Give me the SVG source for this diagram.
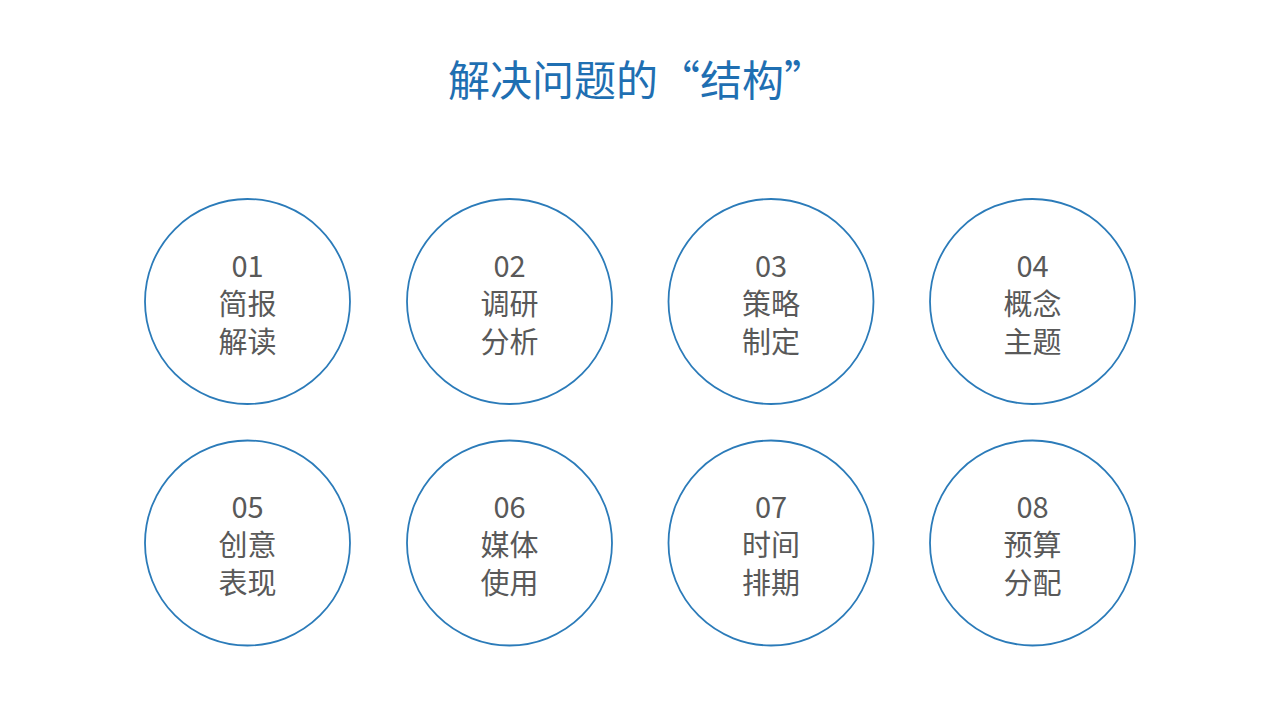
<svg xmlns="http://www.w3.org/2000/svg" width="1280" height="720" viewBox="0 0 1280 720">
<style>
.c{fill:#ffffff;stroke:#2B7BB9;stroke-width:1.8}
.t{font-family:"Noto Sans CJK SC","Noto Sans",sans-serif;font-size:29px;fill:#595959;text-anchor:middle}
.h{font-family:"Noto Sans CJK SC","Noto Sans",sans-serif;font-size:42px;fill:#1F6FB2;text-anchor:middle}
</style>
<rect width="1280" height="720" fill="#ffffff"/>
<text class="h" x="637" y="96">解决问题的“结构”</text>
<g id="n1"><circle class="c" cx="247.5" cy="301.5" r="102.5"/><text class="t" x="247.5" y="276.5">01</text><text class="t" x="247.5" y="314.5">简报</text><text class="t" x="247.5" y="352.5">解读</text></g>
<g id="n2"><circle class="c" cx="509.5" cy="301.5" r="102.5"/><text class="t" x="509.5" y="276.5">02</text><text class="t" x="509.5" y="314.5">调研</text><text class="t" x="509.5" y="352.5">分析</text></g>
<g id="n3"><circle class="c" cx="771" cy="301.5" r="102.5"/><text class="t" x="771" y="276.5">03</text><text class="t" x="771" y="314.5">策略</text><text class="t" x="771" y="352.5">制定</text></g>
<g id="n4"><circle class="c" cx="1032.5" cy="301.5" r="102.5"/><text class="t" x="1032.5" y="276.5">04</text><text class="t" x="1032.5" y="314.5">概念</text><text class="t" x="1032.5" y="352.5">主题</text></g>
<g id="n5"><circle class="c" cx="247.5" cy="543" r="102.5"/><text class="t" x="247.5" y="518">05</text><text class="t" x="247.5" y="556">创意</text><text class="t" x="247.5" y="594">表现</text></g>
<g id="n6"><circle class="c" cx="509.5" cy="543" r="102.5"/><text class="t" x="509.5" y="518">06</text><text class="t" x="509.5" y="556">媒体</text><text class="t" x="509.5" y="594">使用</text></g>
<g id="n7"><circle class="c" cx="771" cy="543" r="102.5"/><text class="t" x="771" y="518">07</text><text class="t" x="771" y="556">时间</text><text class="t" x="771" y="594">排期</text></g>
<g id="n8"><circle class="c" cx="1032.5" cy="543" r="102.5"/><text class="t" x="1032.5" y="518">08</text><text class="t" x="1032.5" y="556">预算</text><text class="t" x="1032.5" y="594">分配</text></g>
<g id="connectors"/>
</svg>
